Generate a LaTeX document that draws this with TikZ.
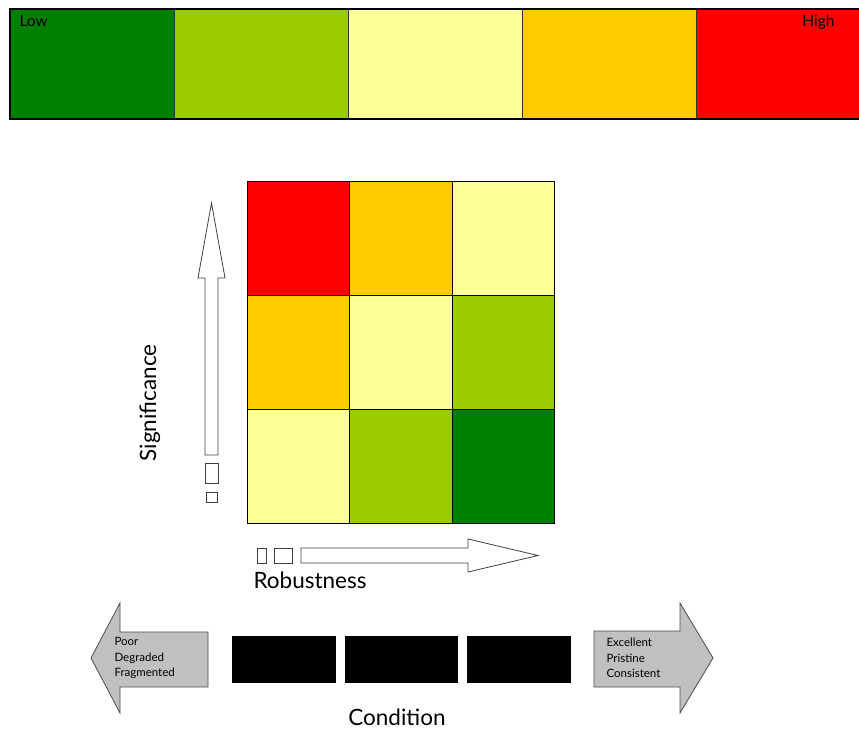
\documentclass[tikz,border=0pt]{standalone}
\usepackage{fontspec}
\setmainfont{Lato}
\usepackage{tikz}
\usetikzlibrary{positioning}
\definecolor{lowgreen}{HTML}{008000}
\definecolor{limegreen}{HTML}{9ACC00}
\definecolor{paleyellow}{HTML}{FFFF99}
\definecolor{amber}{HTML}{FFCC00}
\definecolor{hotred}{HTML}{FF0000}
\definecolor{arrowgray}{HTML}{C0C0C0}
\tikzset{
band/.style={draw=black!80, minimum width=174pt, minimum height=110pt, inner sep=0pt, outer sep=0pt}, % one step of the colour scale
cell/.style={draw=black, minimum width=102.4pt, minimum height=114pt, inner sep=0pt, outer sep=0pt}, % one square of the matrix
bar/.style={fill=black, minimum width=104pt, minimum height=47pt, inner sep=0pt},
hollow/.style={draw=black!75, fill=white, line width=0.8pt},
block/.style={draw=black!70, fill=arrowgray, line width=0.8pt},
axis/.style={font=\fontsize{22.5}{26}\selectfont, inner sep=1pt},
small/.style={font=\fontsize{11.5}{15.5}\selectfont, align=left},
}

\begin{document}
\begin{tikzpicture}[x=1pt, y=-1pt]
\useasboundingbox (0,0) rectangle (859,730);
\clip (0,0) rectangle (859,730);

% colour scale
\node[band, fill=lowgreen, minimum width=164pt, anchor=north west] (s1) at (10,9) {};
\node[band, fill=limegreen, right=0pt of s1] (s2) {};
\node[band, fill=paleyellow, right=0pt of s2] (s3) {};
\node[band, fill=amber, right=0pt of s3] (s4) {};
\node[band, fill=hotred, right=0pt of s4] (s5) {};
\draw[line width=1.2pt] (s1.north west) rectangle (s5.south east);
\node[font=\fontsize{15.5}{18}\selectfont, anchor=west] (low) at (16,21) {Low};
\node[font=\fontsize{15.5}{18}\selectfont, anchor=east] (high) at (838,22) {High};

% risk matrix
\node[cell, fill=hotred, anchor=north west] (c11) at (247,181) {};
\node[cell, fill=amber, right=0pt of c11] (c12) {};
\node[cell, fill=paleyellow, right=0pt of c12] (c13) {};
\node[cell, fill=amber, below=0pt of c11] (c21) {};
\node[cell, fill=paleyellow, right=0pt of c21] (c22) {};
\node[cell, fill=limegreen, right=0pt of c22] (c23) {};
\node[cell, fill=paleyellow, below=0pt of c21] (c31) {};
\node[cell, fill=limegreen, right=0pt of c31] (c32) {};
\node[cell, fill=lowgreen, right=0pt of c32] (c33) {};

% significance axis
\draw[hollow] (205,455) -- (205,278) -- (198,278) -- (211.5,203) -- (225,278) -- (218,278) -- (218,455) -- cycle;
\draw[hollow] (205,463) rectangle (218,483);
\draw[hollow] (206,492) rectangle (217,502);
\node[axis, rotate=90] (sig) at (150,403) {Significance};

% robustness axis
\draw[hollow] (301,548) -- (468,548) -- (468,539) -- (538,555.5) -- (468,572) -- (468,563) -- (301,563) -- cycle;
\draw[hollow] (257,548) rectangle (266,563);
\draw[hollow] (274,548) rectangle (292,563);
\node[axis] (rob) at (310,580) {Robustness};

% condition scale
\draw[block] (208,632) -- (120,632) -- (120,603) -- (91,658) -- (120,713) -- (120,687) -- (208,687) -- cycle;
\draw[block] (594,631) -- (680,631) -- (680,603) -- (713,658) -- (680,713) -- (680,687) -- (594,687) -- cycle;
\node[small, anchor=west] (poor) at (111,658) {Poor\\Degraded\\Fragmented};
\node[small, anchor=west] (good) at (603,658) {Excellent\\Pristine\\Consistent};
\node[bar, anchor=north west] (b1) at (232,636) {};
\node[bar, minimum width=113pt, right=8pt of b1] (b2) {};
\node[bar, right=9pt of b2] (b3) {};
\node[axis] (cond) at (397,717) {Condition};
\end{tikzpicture}
\end{document}
